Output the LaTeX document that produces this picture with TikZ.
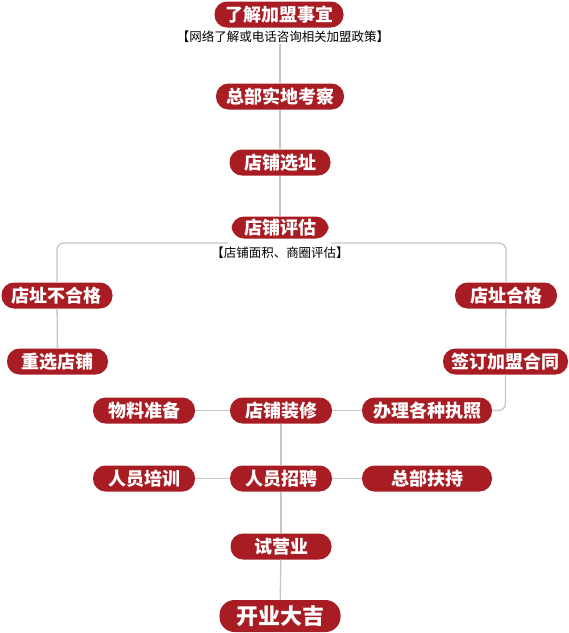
\documentclass[tikz,border=0pt]{standalone}
\usepackage{fontspec}
\newfontfamily\cjk{Noto Sans CJK SC}
\definecolor{boxred}{HTML}{A81C23}
\definecolor{linegray}{HTML}{C6C6C6}
\begin{document}
\begin{tikzpicture}[x=1pt,y=-1pt,
  box/.style={fill=boxred,text=white,rounded corners=12.5pt,minimum height=26pt,inner sep=0pt,
    font=\cjk\bfseries\fontsize{18}{18}\selectfont},
  note/.style={text=black,inner sep=1pt,font=\cjk\fontsize{12.5}{13}\selectfont},
  conn/.style={draw=linegray,line width=1.3pt}]
\useasboundingbox (0,0) rectangle (569,633);
\node[box,minimum width=129pt] (a1) at (279,14.5) {了解加盟事宜};
\node[note] (n1) at (283,36.5) {【网络了解或电话咨询相关加盟政策】};
\node[box,minimum width=128pt] (a2) at (280,96.5) {总部实地考察};
\node[box,minimum width=101pt] (a3) at (280,162.5) {店铺选址};
\node[box,minimum width=97pt,minimum height=22pt] (a4) at (280,227.5) {店铺评估};
\node[note] (n2) at (280,253) {【店铺面积、商圈评估】};
\node[box,minimum width=111pt] (fail) at (57,295.5) {店址不合格};
\node[box,minimum width=101pt] (redo) at (57.5,361.5) {重选店铺};
\node[box,minimum width=102pt] (ok) at (506,295.5) {店址合格};
\node[box,minimum width=125pt] (sign) at (505.5,361.5) {签订加盟合同};
\node[box,minimum width=102pt] (mat) at (144,410.5) {物料准备};
\node[box,minimum width=102pt] (dec) at (281,410.5) {店铺装修};
\node[box,minimum width=130pt] (lic) at (427,410.5) {办理各种执照};
\node[box,minimum width=102pt] (train) at (144,478.5) {人员培训};
\node[box,minimum width=102pt] (rec) at (281,478.5) {人员招聘};
\node[box,minimum width=130pt] (sup) at (427,478.5) {总部扶持};
\node[box,minimum width=101pt] (trial) at (281,546.5) {试营业};
\node[box,minimum width=121pt,minimum height=32pt,rounded corners=15pt,
  font=\cjk\bfseries\fontsize{22}{22}\selectfont] (open) at (280,616) {开业大吉};
\coordinate (jl) at (228,243);
\coordinate (jr) at (331,243);
\draw[conn] (a2 |- n1.south) -- (a2);
\draw[conn] (a2) -- (a3);
\draw[conn] (a3) -- (a4);
\draw[conn,rounded corners=7pt] (jl) -| (fail.north);
\draw[conn,rounded corners=7pt] (jr) -| (ok.north);
\draw[conn] (fail) -- (redo);
\draw[conn] (ok) -- (sign);
\draw[conn,rounded corners=7pt] (sign.south) |- (lic.east);
\draw[conn] (mat) -- (dec);
\draw[conn] (dec) -- (lic);
\draw[conn] (dec) -- (rec);
\draw[conn] (train) -- (rec);
\draw[conn] (rec) -- (sup);
\draw[conn] (rec) -- (trial);
\draw[conn] (trial) -- (open);
\end{tikzpicture}
\end{document}
